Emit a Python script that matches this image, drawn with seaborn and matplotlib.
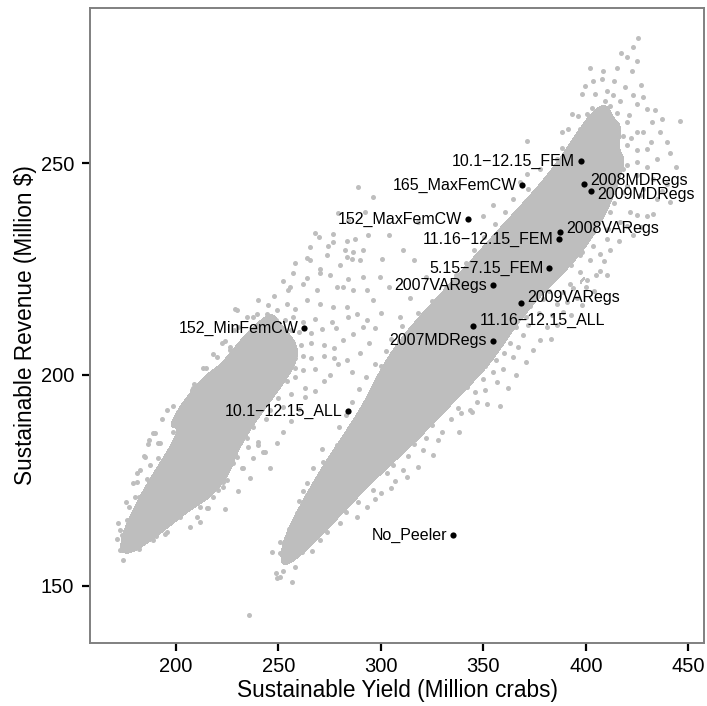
import numpy as np
import pandas as pd
import matplotlib
matplotlib.use("Agg")
import matplotlib.pyplot as plt
from matplotlib.colors import ListedColormap
import seaborn as sns

# labelled management scenarios
scenario_names = ["10.1\u221212.15_FEM", "165_MaxFemCW", "2008MDRegs", "2009MDRegs",
                  "152_MaxFemCW", "2008VARegs", "11.16\u221212.15_FEM", "5.15\u22127.15_FEM",
                  "2007VARegs", "2009VARegs", "11.16\u221212.15_ALL", "2007MDRegs",
                  "152_MinFemCW", "10.1\u221212.15_ALL", "No_Peeler"]
scenario_yield = [397.5, 369.0, 399.1, 402.4, 342.4, 387.4, 387.1, 382.0,
                  354.6, 368.5, 344.8, 354.6, 262.3, 284.1, 335.0]
scenario_revenue = [250.5, 244.8, 245.0, 243.5, 236.8, 233.6, 232.0, 225.2,
                    221.1, 216.9, 211.6, 208.0, 210.9, 191.3, 162.0]

# simulated outcomes, upper band (yield, revenue)
right_cloud = [
    (235.5, 143.1),
    (249.5, 151.8), (252, 153.6), (256.5, 150.9), (250.8, 152.2), (253, 155.7), (249, 153.1), (258, 154.5),
    (246.7, 158.1), (250.8, 157.7), (255.6, 157.8), (261.3, 158.1), (266.2, 158.3), (253, 156.5),
    (250.8, 160.5), (254, 161.2), (257.2, 161.6), (260, 160), (263, 159.6), (270.3, 160.9), (266, 161.5),
    (255, 163.5), (258, 163), (262, 164), (265, 163), (268, 163.8), (273.5, 162.8), (280, 164.9), (259, 165.2),
    (258.9, 167.2), (262, 166.5), (265, 166), (266.9, 165.6), (270, 166.8), (274, 166), (278, 166.5),
    (288.2, 166.4), (283, 167.5),
    (260, 170), (263, 169), (267, 169.5), (271, 169), (275, 169.5), (279, 169), (283, 170), (293, 168.6),
    (289, 169.8), (297, 170.5),
    (262, 172.5), (264, 171.4), (268, 172), (272, 172), (276, 172.5), (280, 172), (284, 172.5), (288, 172),
    (296.3, 172.7), (300, 172), (305, 173.2),
    (263.8, 174.3), (270, 175), (274, 175), (278, 175.5), (282, 175), (286, 175), (290, 175.5), (295, 176),
    (302.8, 176.6), (312.6, 175.8), (307, 174.8),
    (267, 177.8), (273, 178), (277, 178), (281, 178.5), (285, 178), (289, 178), (293, 178.5), (297, 178),
    (306, 178.6), (311, 177.5), (318, 178.2), (302, 179.5),
    (271.9, 179.4), (271.1, 182.5), (277, 181), (281, 181), (285, 181.5), (289, 181), (293, 181), (297, 181.5),
    (301, 181), (305, 181.5), (313, 180.8), (320.7, 182.1), (325.6, 180.9),
    (278.4, 183.3), (282, 184), (286, 184), (290, 184.5), (294, 184), (298, 184), (302, 184.5), (306, 184),
    (310, 184), (316, 183.5), (322, 185), (328, 184.5),
    (279.5, 187.5), (285, 187), (289, 187), (293, 187.5), (297, 187), (301, 187), (305, 187.5), (309, 187),
    (313, 187), (317, 187.5), (319.9, 186.8), (329.7, 186.4), (325, 188),
    (283, 190.5), (289, 190), (293, 190), (297, 190.5), (301, 190), (305, 190), (309, 190.5), (313, 190),
    (317, 190), (321, 190.5), (326, 190), (334, 189.5), (344.3, 191.2), (339, 190.8),
    (286, 193.5), (293, 193), (297, 193), (301, 193.5), (305, 193), (309, 193), (313, 193.5), (317, 193),
    (321, 193), (325, 193.5), (329, 193), (337.8, 192.2), (343.5, 191.6), (333, 194.5), (347, 193.5),
    (289.5, 196.5), (296, 196), (300, 196), (304, 196.5), (308, 196), (312, 196), (316, 196.5), (320, 196),
    (324, 196), (328, 196.5), (332, 196), (336, 196), (341.9, 197.1), (350.8, 196.3), (356.5, 198.3),
    (362.2, 196.7), (346, 195.8),
    (292.5, 199.5), (298, 199), (302, 199), (306, 199.5), (310, 199), (314, 199), (318, 199.5), (322, 199),
    (326, 199), (330, 199.5), (334, 199), (338, 199), (341, 199.5), (350, 199), (354.9, 200.6), (345, 200.3),
    (297, 202.5), (300, 202), (304, 202), (308, 202.5), (312, 202), (316, 202), (320, 202.5), (324, 202),
    (328, 202), (332, 202.5), (336, 202), (340, 202), (344, 202.5), (351, 202), (359.7, 201.4), (356, 203.5),
    (364.6, 204.2),
    (302.5, 205.5), (306, 205), (310, 205), (314, 205.5), (318, 205), (322, 205), (326, 205.5), (330, 205),
    (334, 205), (338, 205.5), (342, 205), (346, 205), (349, 205.5), (354, 206), (360, 205), (374.4, 205.7),
    (367, 206.5),
    (305, 208.5), (309, 208), (313, 208), (317, 208.5), (321, 208), (325, 208), (329, 208.5), (333, 208),
    (337, 208), (341, 208.5), (345, 208), (349, 208), (353, 208.5), (350.8, 209.8), (358, 209), (363, 207.5),
    (369.5, 209.3), (377.6, 208.1),
    (310.5, 211.5), (315, 211), (319, 211), (323, 211.5), (327, 211), (331, 211), (335, 211.5), (339, 211),
    (343, 211), (347, 211.5), (351, 211), (355, 211), (360, 212), (366, 211.2), (372, 211.8), (380.9, 211.2),
    (318, 214.5), (321, 214), (325, 214), (329, 214.5), (333, 214), (337, 214), (341, 214.5), (345, 214),
    (349, 214), (353, 214.5), (357, 214), (361, 214), (365, 214.8), (371, 213.6), (377, 214.5), (383.4, 214),
    (389, 214.8),
    (325, 217.5), (328, 217), (332, 217), (336, 217.5), (340, 217), (344, 217), (348, 217.5), (352, 217),
    (356, 217), (360, 217.5), (364, 217), (368, 217), (373, 216.3), (379, 217.8), (385.8, 216.8),
    (395.6, 218), (391, 217.2),
    (332, 220.5), (335, 220), (339, 220), (343, 220.5), (347, 220), (351, 220), (355, 220.5), (359, 220),
    (363, 220), (367, 220.5), (371, 220), (376, 220.6), (382, 219.8), (389, 219.5), (393.8, 220.4), (400, 220.8),
    (336.5, 223.5), (340, 223), (344, 223), (348, 223.5), (352, 223), (356, 223), (360, 223.5), (364, 223),
    (368, 223), (372, 223.5), (376, 223), (380, 223), (384, 223.5), (392.3, 221.5), (397.2, 224.2),
    (400.4, 222.3), (405, 223.5), (410.2, 223.5),
    (341.5, 226.5), (345, 226), (349, 226), (353, 226.5), (357, 226), (361, 226), (365, 226.5), (369, 226),
    (373, 226), (377, 226.5), (381, 226), (385, 226), (389, 226.5), (393, 226), (402, 227), (407, 224.6),
    (397.2, 228.2), (409, 226.8),
    (345.5, 229.5), (350, 229), (354, 229), (358, 229.5), (362, 229), (366, 229), (370, 229.5), (374, 229),
    (378, 229), (382, 229.5), (386, 229), (390, 229), (394, 229.5), (398, 229), (407, 228.6), (403.7, 230.5),
    (412, 229.5),
    (350.5, 232.5), (355, 232), (359, 232), (363, 232.5), (367, 232), (371, 232), (375, 232.5), (379, 232),
    (383, 232), (391, 232.5), (395, 232), (399, 232), (403.7, 233.7), (410.2, 232.1), (416, 231.6),
    (355.5, 235.5), (360, 235), (364, 235), (368, 235.5), (372, 235), (376, 235), (380, 235.5), (384, 235),
    (388, 235), (392, 235.5), (396, 235), (400, 235), (404, 235.5), (411, 234.5), (416.7, 236), (420, 235.2),
    (350, 237.6), (360.5, 238.5), (367.9, 238.4), (370, 238), (374, 238.5), (378, 238), (382, 238),
    (386, 238.5), (390, 238), (394, 238), (398, 238.5), (402, 238), (406, 238), (412, 238.5), (421.6, 238.4),
    (425, 237.8), (429.7, 237.6),
    (354.9, 240), (364.6, 241.6), (371, 241), (375, 241.5), (379, 241), (383, 241), (389, 241.6), (393, 241),
    (397, 241.5), (401, 241), (405, 241), (410.1, 242.4), (418.3, 243.1), (426.4, 242.4), (434.6, 241.6),
    (414, 240.5),
    (367.9, 245.5), (372, 244), (378, 244.5), (380.9, 243.1), (385, 244), (392, 244.5), (396, 244),
    (404, 244.3), (408, 244.8), (413, 244), (420, 244.6), (428, 243.8), (441.1, 240.8),
    (371.1, 247.4), (377.6, 248.7), (384.1, 247.1), (388, 246.5), (392.3, 248.7), (396, 247), (403.6, 247.9),
    (406, 246.2), (411.8, 247.5), (418.3, 248.7), (424.8, 247.1), (432.9, 246.3), (439.4, 245.1),
    (385.8, 251), (390, 250), (394.7, 251.8), (399, 249.5), (402, 250.5), (405.3, 251.4), (410.1, 252.6),
    (413, 250.2), (416.7, 251), (424.8, 250.2), (434.6, 251), (420, 249.6), (430, 249),
    (388.2, 253.5), (392, 253.2), (397.2, 254.9), (403.6, 255.3), (407, 253.5), (410, 254.2), (415, 254.9),
    (420, 254.2), (429.7, 253.4), (439.4, 254.9), (425, 253),
    (371.1, 255.3), (388.2, 257.3), (391.5, 258.1), (397.2, 258.1), (402, 257.3), (406.9, 258.9),
    (413.4, 258.1), (418, 256.5), (424.8, 257.3), (428, 257.3), (436.2, 257.3),
    (393.1, 261.6), (396.3, 261.2), (400.4, 261.6), (406.1, 261.2), (409.4, 260.5), (420, 259.7),
    (429.7, 262.8), (432.1, 259.7), (437, 260.5), (446, 260), (415, 261.8),
    (398, 266.4), (404.5, 266.4), (409.4, 264.8), (410.1, 267.1), (413.4, 266), (416.7, 264.8), (419.1, 268),
    (423.2, 266), (424.8, 264), (428, 265.6),
    (399.6, 268.3), (403.6, 269.5), (407.7, 269.9), (408.5, 271.9), (422.4, 271.9), (420, 275),
    (424.8, 274.2), (425.6, 279.7), (415, 272.5),
    (304, 233), (316, 227), (304, 220.6), (314, 218), (309.3, 213.6), (322, 223), (311, 229.5),
    (318, 236), (326, 216),
    # upper tail
    (395, 252), (404, 252.5), (412, 255.5), (422, 256), (432, 255), (400, 259.5), (411, 259.5),
    (421, 261.5), (434, 262.5), (403, 263), (412, 263.5), (427, 268.5), (414, 269.5), (402, 272.5),
    (417, 276), (423, 277.5),
    # right-hand fringe
    (338, 186.5), (352, 193), (358, 192.5), (366, 200), (371, 203), (383, 208.5), (386, 211.8),
    (393, 214), (398, 216.5), (404, 219.8), (423, 233),
    (427, 235), (433, 238), (437, 243.5), (444, 249), (441, 252.5),
]

# simulated outcomes, lower band (yield, revenue)
left_cloud = [
    (174.3, 156.1), (172.7, 158.5), (173.5, 158.5), (177.6, 159.3), (178.4, 160.1), (176, 161.3),
    (173.5, 162), (172.7, 163.2), (171.8, 164.8), (179.2, 163.2), (184, 160.1), (188.9, 160.9),
    (194.6, 162.4), (187.3, 164), (195.4, 162.8), (182, 158.8),
    (180, 160.5), (183, 161.5),
    (178, 162.5), (181, 162), (184, 162.5), (187, 162), (190, 161.8),
    (176, 165.5), (180, 165), (183, 165), (186, 165.5), (189, 165), (192, 165), (195, 165.5), (198, 165.8),
    (202, 166.4), (206.8, 164), (211.7, 165.2), (210.1, 166.4),
    (176.8, 168.7), (180, 168), (184, 168), (187, 168.5), (190, 168), (193, 168), (196, 168.5), (199, 168),
    (202, 168), (205, 168.5), (211.7, 168.7), (215, 168.4), (215.8, 168.4), (208, 169.5),
    (180, 171.1), (182, 171), (186, 171), (189, 171.5), (192, 171), (195, 171), (198, 171.5), (201, 171),
    (204, 171), (207, 171.5), (210, 171), (218.2, 171.1), (213, 172),
    (179.2, 174.3), (180.8, 174.6), (185.7, 175.4), (189, 174), (192, 174), (195, 174.5), (198, 174),
    (201, 174), (204, 174.5), (207, 174), (210, 174), (213, 174.5), (216, 174), (220.6, 172.7),
    (223.1, 174.6), (219, 175), (224.7, 175),
    (182.5, 177.5), (187.3, 178.6), (192, 177), (195, 177), (198, 177.5), (201, 177), (204, 177),
    (207, 177.5), (210, 177), (213, 177), (216, 177.5), (219, 177), (223.1, 173.5), (228, 179),
    (232.1, 177.8), (232.8, 177.8),
    (185, 180.5), (191.4, 180.2), (196, 180), (199, 180), (202, 180.5), (205, 180), (208, 180), (211, 180.5),
    (214, 180), (217, 180), (220, 180.5), (223, 180), (226, 180.5), (229.6, 180.5), (237.7, 180.2),
    (242.6, 181.7), (243.4, 181.7),
    (186.5, 183.5), (192.2, 183.7), (191.4, 183.7), (199, 183), (202, 183), (205, 183.5), (208, 183),
    (211, 183), (214, 183.5), (217, 183), (220, 183), (223, 183.5), (226, 183), (229, 183.5), (235.3, 182.9),
    (240.2, 183.3), (249.1, 183.7),
    (188.9, 186.1), (189.8, 186.1), (198.7, 186.4), (204, 186), (207, 186), (210, 186.5), (213, 186),
    (216, 186), (219, 186.5), (222, 186), (225, 186), (228, 186.5), (231.2, 186.1), (234.5, 184.9),
    (240.2, 184.1), (237.7, 187.6),
    (193, 189.5), (202, 189.6), (204.4, 188.8), (208, 189), (211, 189), (214, 189.5), (217, 189), (220, 189),
    (223, 189.5), (226, 189), (229, 189), (232, 189.5), (235, 189), (239, 190), (244, 189.5),
    (198.5, 192.5), (201.1, 191.2), (205.2, 192), (202.8, 192), (206, 193.2), (212, 192), (215, 192),
    (218, 192.5), (221, 192), (224, 192), (227, 192.5), (230, 192), (233, 192), (236, 192.5), (239, 192),
    (242, 192.5), (246, 191.5), (252.4, 192.3),
    (208.4, 195.1), (211.7, 195.5), (216, 195), (219, 195), (222, 195.5), (225, 195), (228, 195),
    (231, 195.5), (234, 195), (237, 195), (240, 195.5), (243, 195), (246, 195.5), (250, 194.5), (256, 195.5),
    (263, 194.7),
    (208.4, 196.7), (207.7, 196.3), (213, 198.5), (220, 198), (223, 198), (226, 198.5), (229, 198), (232, 198),
    (235, 198.5), (238, 198), (241, 198), (244, 198.5), (247, 198), (250, 198), (254, 198.5), (263, 196.7),
    (258, 199.5),
    (214.5, 201.5), (224, 201), (227, 201), (230, 201.5), (233, 201), (236, 201), (239, 201.5), (242, 201),
    (245, 201), (248, 201.5), (251, 201), (254, 201), (258, 201.5), (262, 201), (268, 201.2), (275.2, 199.8),
    (219, 200.5),
    (219.9, 204.2), (228, 204), (231, 204), (234, 204.5), (237, 204), (240, 204), (243, 204.5), (246, 204),
    (249, 204), (252, 204.5), (255, 204), (258, 204), (262, 204.5), (266, 204), (272, 204.5), (277, 203.8),
    (283.3, 203.4),
    (222.5, 207.5), (226.4, 205.7), (226.4, 206.5), (232.8, 207.3), (236, 207), (239, 207.5), (242, 207),
    (245, 207), (248, 207.5), (251, 207), (254, 207), (257, 207.5), (261, 207), (266, 207.5), (272, 207),
    (281.6, 208.1), (289.8, 205), (277, 206.2),
    (228.5, 210.5), (237.7, 208.9), (236, 210), (240, 210), (244, 210.5), (248, 210), (252, 210),
    (256, 210.5), (260, 210), (266, 209.8), (271, 210.8), (286.5, 209.7), (278, 211),
    (234.5, 213.5), (237.7, 213.6), (244.3, 214.4), (239.4, 214.4), (244, 212.5), (249, 213), (253, 212.8),
    (257, 213.5), (262, 212.5), (268, 213.2), (276, 212.5), (291.4, 211.2), (293, 212.8), (284, 213.6),
    (228.8, 215.6), (229.6, 215.2), (249.1, 215.2), (254, 216.8), (263.8, 217.6), (270.3, 216.8),
    (276.8, 216), (283.3, 216), (288.2, 214.4), (296.3, 217.6), (258, 215.5), (245, 216.5),
    (254.8, 219.9), (255.6, 220.7), (262.1, 221.5), (268.7, 219.9), (278.4, 220.7), (281.6, 220.7),
    (286.5, 219.9), (293, 219.9), (248, 218.6),
    (257.2, 223.9), (270.3, 223.9), (291.4, 223), (299.6, 223), (264, 222.8), (275, 223.6), (284, 222.5),
    (265.4, 227), (263.8, 227.6), (270.3, 225), (273.5, 228.2), (285.8, 227.4), (289.8, 227), (300.4, 227.4),
    (280, 226),
    (282.5, 229.4), (286.5, 229), (291.4, 229.4), (265.4, 230.1), (283.3, 227.8), (274, 230.5),
    (276.8, 231.3), (287.4, 232.1), (293.9, 232.9), (276.8, 233.3), (283.3, 231.7), (270, 232.5),
    (296.3, 241.9), (289, 244.3), (292, 238.5), (284, 236.5),
    # fringe
    (224, 168.3), (230, 172.4), (236, 175.5), (246, 178), (252, 186.5), (256, 189), (260, 191.8),
    (268, 196), (272, 198.5), (279, 202.5), (286, 200.5), (294, 207.5), (297, 211), (300, 214.5),
    (171, 161), (175.5, 169.8), (181, 176.8), (184.5, 180.8), (187, 184.5), (195.5, 191.5), (209, 197.8),
    (213, 201.5), (218, 204.8), (224, 208), (230, 211.3), (240, 217.6), (252, 222.1), (258, 226.3),
    (268, 233.5), (279, 238.3),
]

grey = "#bebebe"

right_df = pd.DataFrame(right_cloud, columns=["sy", "sr"])
left_df = pd.DataFrame(left_cloud, columns=["sy", "sr"])
scen_df = pd.DataFrame({"name": scenario_names, "sy": scenario_yield, "sr": scenario_revenue})

sns.set_theme(style="white")
plt.rcParams["font.family"] = ["Liberation Sans", "DejaVu Sans"]

fig, ax = plt.subplots(figsize=(7.07, 7.06), dpi=100)
fig.subplots_adjust(left=0.1273, right=0.9958, top=0.9887, bottom=0.0892)

# dense cores of the two clouds
core_cmap = ListedColormap([grey])
for cloud, lev in ((right_df, 0.43), (left_df, 0.52)):
    sns.kdeplot(x=cloud["sy"], y=cloud["sr"], fill=True, levels=[lev, 1],
                cmap=core_cmap, bw_adjust=0.75, gridsize=300, ax=ax)

for cloud in (right_df, left_df):
    sns.scatterplot(x=cloud["sy"], y=cloud["sr"], color=grey, s=13,
                    linewidth=0, ax=ax, zorder=2, legend=False)

sns.scatterplot(x=scen_df["sy"], y=scen_df["sr"], color="black", s=20,
                linewidth=0, ax=ax, zorder=3, legend=False)

# label placement: (dx, dy) in points, alignment
label_pos = {
    "2008MDRegs": (4.5, 3.0, "left"),
    "2009MDRegs": (4.5, -2.6, "left"),
    "2008VARegs": (4.5, 3.0, "left"),
    "2009VARegs": (4.0, 4.0, "left"),
    "11.16\u221212.15_ALL": (5.0, 3.6, "left"),
}
for _, r in scen_df.iterrows():
    dx, dy, ha = label_pos.get(r["name"], (-4.0, 0.0, "right"))
    ax.annotate(r["name"], (r["sy"], r["sr"]), xytext=(dx, dy),
                textcoords="offset points", ha=ha, va="center", fontsize=11.5,
                color="black", zorder=4)

ax.set_xlim(158, 457.7)
ax.set_ylim(136.5, 286.7)
ax.set_xticks([200, 250, 300, 350, 400, 450])
ax.set_yticks([150, 200, 250])
ax.tick_params(axis="both", direction="out", length=5.8, width=1.6, color="black",
               labelsize=14.5, labelcolor="black", left=True, bottom=True)
ax.tick_params(axis="x", pad=4.5)
ax.tick_params(axis="y", pad=5.5)
ax.set_xlabel("Sustainable Yield (Million crabs)", fontsize=16.3, color="black", labelpad=2)
ax.set_ylabel("Sustainable Revenue (Million $)", fontsize=16.3, color="black", labelpad=3)
for sp in ax.spines.values():
    sp.set_color("#808080")
    sp.set_linewidth(1.4)

plt.savefig("out.png", dpi=100)
